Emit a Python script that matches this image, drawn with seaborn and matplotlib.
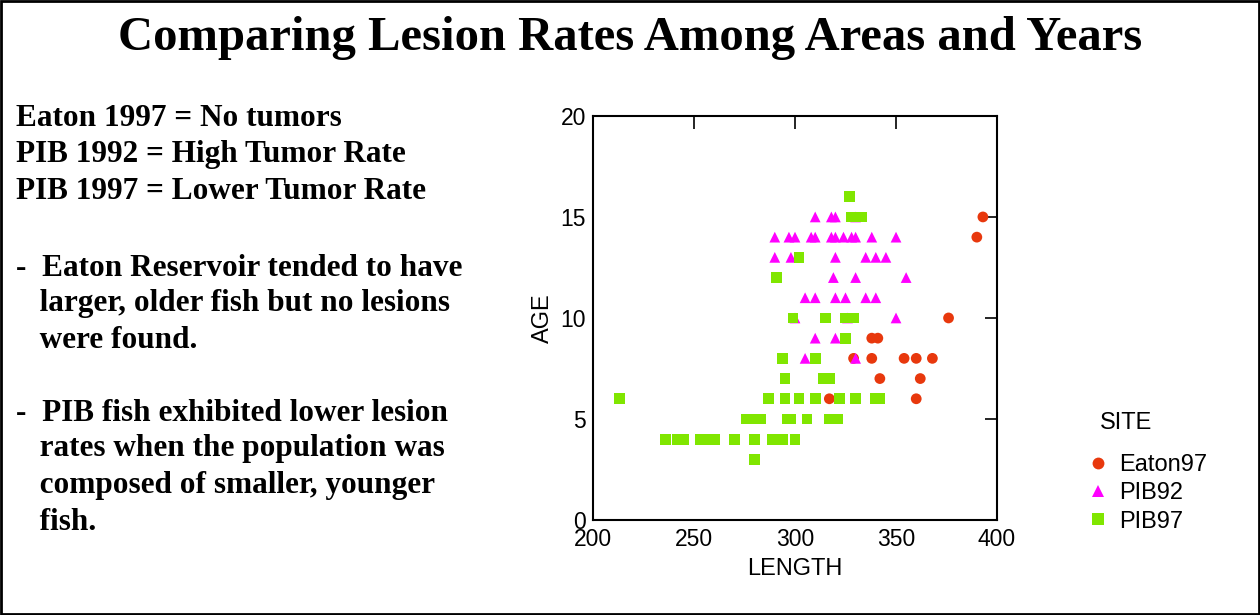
import pandas as pd
import seaborn as sns
import matplotlib.pyplot as plt
from matplotlib.patches import Rectangle
from matplotlib import font_manager

# --- data (LENGTH, AGE) ---
eaton97_length = [393, 390, 376, 338, 341, 329, 338, 354, 360, 368, 342, 362, 317, 360]
eaton97_age = [15, 14, 10, 9, 9, 8, 8, 8, 8, 8, 7, 7, 6, 6]

pib92_length = [310, 318, 320, 330,
                290, 297, 300, 308, 310, 318, 320, 324, 328, 330, 338, 350,
                290, 298, 320, 335, 340, 345,
                319, 330, 355,
                305, 310, 320, 325, 335, 340,
                300, 326, 350,
                310, 320,
                305, 310, 330]
pib92_age = [15] * 4 + [14] * 12 + [13] * 6 + [12] * 3 + [11] * 6 + [10] * 3 + [9] * 2 + [8] * 3

pib97_length = [327,
                328, 333,
                302,
                291,
                299, 315, 325, 329,
                325,
                294, 310,
                295, 314, 317,
                213, 287, 295, 302, 310, 322, 330, 340, 342,
                276, 280, 283, 296, 298, 306, 317, 321,
                236, 242, 245, 253, 255, 260, 270, 280, 289, 294, 300,
                280]
pib97_age = ([16] + [15] * 2 + [13] + [12] + [10] * 4 + [9] + [8] * 2 + [7] * 3
             + [6] * 9 + [5] * 8 + [4] * 11 + [3])

sites = ["Eaton97", "PIB92", "PIB97"]
site_colors = {"Eaton97": "#E8380D", "PIB92": "#FF00FF", "PIB97": "#80E600"}
site_markers = {"Eaton97": "o", "PIB92": "^", "PIB97": "s"}

title_text = "Comparing Lesion Rates Among Areas and Years"
notes = [
    (0.808, "Eaton 1997 = No tumors"),
    (0.748, "PIB 1992 = High Tumor Rate"),
    (0.689, "PIB 1997 = Lower Tumor Rate"),
    (0.564, "-  Eaton Reservoir tended to have"),
    (0.506, "   larger, older fish but no lesions"),
    (0.447, "   were found."),
    (0.328, "-  PIB fish exhibited lower lesion"),
    (0.270, "   rates when the population was"),
    (0.210, "   composed of smaller, younger"),
    (0.151, "   fish."),
]

df = pd.concat([
    pd.DataFrame({"LENGTH": eaton97_length, "AGE": eaton97_age, "SITE": "Eaton97"}),
    pd.DataFrame({"LENGTH": pib92_length, "AGE": pib92_age, "SITE": "PIB92"}),
    pd.DataFrame({"LENGTH": pib97_length, "AGE": pib97_age, "SITE": "PIB97"}),
], ignore_index=True)

sns.set_theme(style="white")
plt.rcParams["font.family"] = ["Liberation Sans", "DejaVu Sans"]
plt.rcParams["text.color"] = "black"
plt.rcParams["axes.labelcolor"] = "black"

# bold serif for the slide text (Times look-alike)
serif_bold = font_manager.FontProperties(family="Liberation Serif", weight="bold")

fig = plt.figure(figsize=(12.6, 6.15), dpi=100)
ax = fig.add_axes([0.4706, 0.1545, 0.3207, 0.657])

sns.scatterplot(data=df, x="LENGTH", y="AGE", hue="SITE", style="SITE",
                hue_order=sites, style_order=sites,
                palette=site_colors, markers=site_markers,
                s=60, linewidth=0, ax=ax, legend=True)

ax.set_xlim(200, 400)
ax.set_ylim(0, 20)
ax.set_xticks([200, 250, 300, 350, 400])
ax.set_yticks([0, 5, 10, 15, 20])
ax.tick_params(direction="in", length=9, width=1.2, labelsize=16.5,
               top=True, right=True, colors="black", labelcolor="black")
ax.tick_params(axis="x", pad=6)
ax.tick_params(axis="y", pad=5)
for side in ax.spines.values():
    side.set_color("black")
    side.set_linewidth(1.5)
ax.set_xlabel("LENGTH", fontsize=17, labelpad=5)
ax.set_ylabel("AGE", fontsize=17, labelpad=5)

# legend outside on the right, no frame; title drawn separately
handles, labels = ax.get_legend_handles_labels()
ax.legend_.remove()
fig.legend(handles, labels, loc="upper left",
           bbox_to_anchor=(0.862, 0.262), frameon=False,
           fontsize=17, handlelength=1.0, handletextpad=0.4,
           labelspacing=0.27, borderpad=0, borderaxespad=0, markerscale=1.1)
fig.text(0.873, 0.312, "SITE", ha="left", va="center", fontsize=17)

fig.text(0.5, 0.938, title_text, ha="center", va="center",
         fontproperties=serif_bold, fontsize=35, color="black")
for ypos, line in notes:
    fig.text(0.013, ypos, line, ha="left", va="center",
             fontproperties=serif_bold, fontsize=22.5, color="black")

# border around the whole slide
fig.patches.append(Rectangle((0.001, 0.002), 0.998, 0.996, transform=fig.transFigure,
                             fill=False, edgecolor="black", linewidth=2))

fig.savefig("out.png", dpi=100)
